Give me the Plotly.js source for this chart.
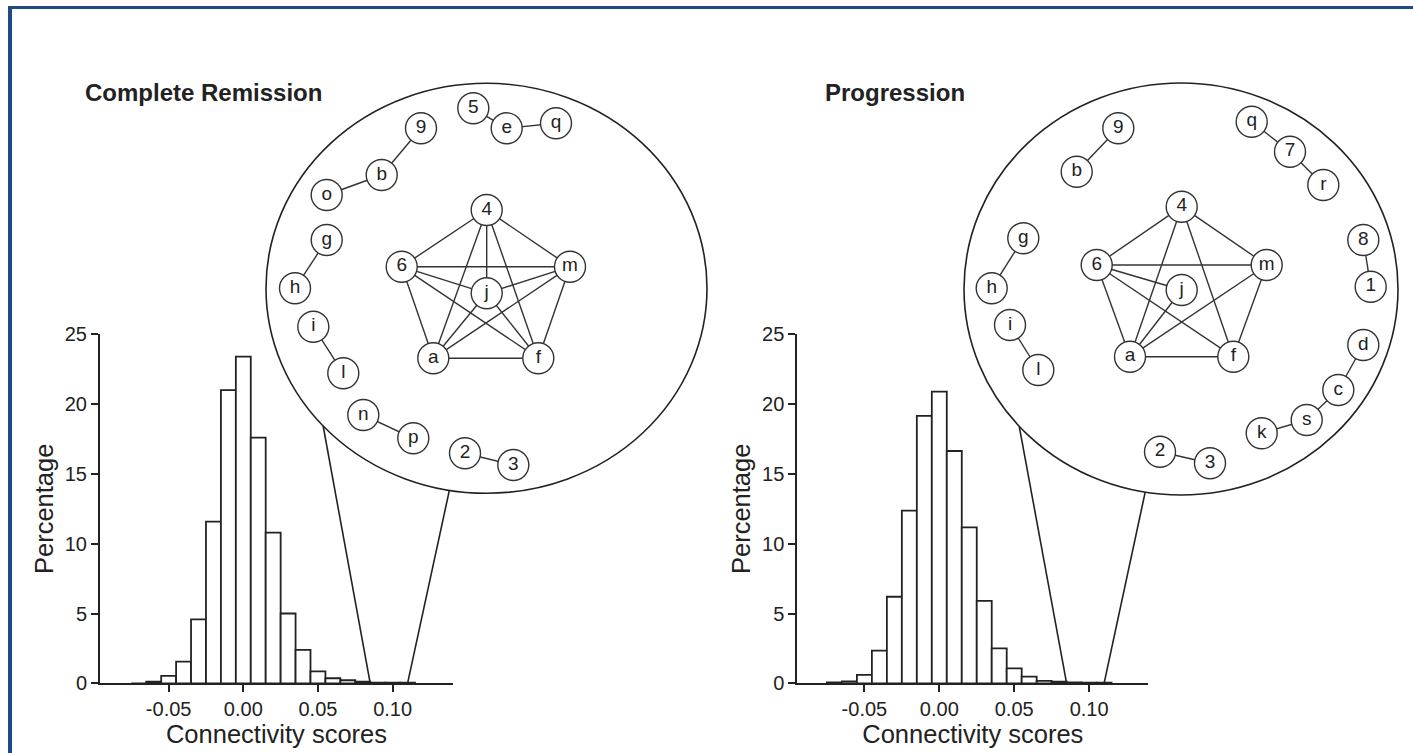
<!DOCTYPE html>
<html>
<head>
<meta charset="utf-8">
<script src="https://cdn.plot.ly/plotly-3.0.1.min.js"></script>
<style>html,body{margin:0;padding:0;background:#fff;}#chart{width:1413px;height:753px;}</style>
</head>
<body>
<div id="chart"></div>
<script>
// ---------------- data ----------------
const binCenters = [-0.07,-0.06,-0.05,-0.04,-0.03,-0.02,-0.01,0.00,0.01,0.02,0.03,0.04,0.05,0.06,0.07,0.08,0.09,0.10,0.11];
const remissionPct = [0,0.12,0.53,1.55,4.58,11.58,21.0,23.4,17.6,10.8,5.0,2.39,0.85,0.36,0.22,0.12,0.05,0.04,0.04];
const progressionPct = [0.07,0.14,0.6,2.34,6.2,12.37,19.15,20.9,16.64,11.17,5.9,2.5,1.07,0.48,0.17,0.12,0.07,0.05,0.04];
const xTickVals = [-0.05,0,0.05,0.10];
const xTickText = ['-0.05','0.00','0.05','0.10'];
const yTickVals = [0,5,10,15,20,25];
const zoomedRange = [0.085, 0.11];
const panelTitles = ['Complete Remission','Progression'];

// network (complete remission)
const remNodes  = ['5','e','q','9','b','o','g','h','i','l','n','p','2','3','4','6','m','j','a','f'];
const remNodeX  = [473.3,506.7,556,421,381.7,326.7,326.7,295,313.3,343.3,363.3,413.3,465,513.3,486.7,401.7,570,486.7,433.3,538.3];
const remNodeY  = [108.3,128.3,123.3,128.3,175,195,240,288.3,326.7,373.3,415,438.3,453.3,465,210,266.7,266.7,293.3,358.3,358.3];
const remEdges  = [['5','e'],['e','q'],['9','b'],['b','o'],['g','h'],['i','l'],['n','p'],['2','3'],
  ['4','6'],['4','m'],['4','a'],['4','f'],['4','j'],['6','m'],['6','a'],['6','f'],['6','j'],
  ['m','a'],['m','f'],['m','j'],['a','f'],['a','j'],['f','j']];

// network (progression)
const proNodes  = ['9','b','q','7','r','8','1','d','c','s','k','2','3','g','h','i','l','4','6','m','j','a','f'];
const proNodeX  = [1118.3,1076.7,1251.7,1290,1323.3,1363.3,1370.7,1363.3,1338.3,1306.7,1261.7,1160,1210,1023.3,991.7,1010,1038.3,1181.7,1096.7,1266.7,1181.7,1130,1233.3];
const proNodeY  = [128.3,171.7,121.7,151.7,185,240,286.7,345,390,420,433.3,451.7,463.3,238.3,288.3,325,370,206.7,265,265,290,356.7,356.7];
const proEdges  = [['9','b'],['q','7'],['7','r'],['8','1'],['d','c'],['c','s'],['s','k'],['g','h'],['i','l'],['2','3'],
  ['4','6'],['4','m'],['4','a'],['4','f'],['6','m'],['6','a'],['6','f'],['6','j'],
  ['m','a'],['m','f'],['a','f'],['a','j']];

// ---------------- layout constants ----------------
const W = 1413, H = 753;
const ink = '#222';
const FONT = 'Liberation Sans, Arial, Helvetica, sans-serif';
const panels = [
  {xpx:[100,453], ypx:[334.3,683.3], range:[-0.09597,0.14043], ell:{cx:486.5,cy:288.3,rx:220.5,ry:205}, angles:[137.8,99.7], title:{x:83,y:92}},
  {xpx:[797.3,1148.3], ypx:[334.3,683.3], range:[-0.09479,0.13952], ell:{cx:1181,cy:289,rx:217,ry:206}, angles:[138.2,99.5], title:{x:823,y:92}}
];

function edgeXY(nodes, xs, ys, edges){
  const X=[],Y=[];
  edges.forEach(([a,b])=>{
    const i=nodes.indexOf(a), j=nodes.indexOf(b);
    X.push(xs[i],xs[j],null); Y.push(ys[i],ys[j],null);
  });
  return {X,Y};
}

const traces = [];
const seriesList = [remissionPct, progressionPct];
seriesList.forEach((vals,k)=>{
  traces.push({
    type:'bar', x:binCenters, y:vals, width:0.01,
    xaxis: k===0?'x':'x2', yaxis: k===0?'y':'y2',
    marker:{color:'#fff', line:{color:ink, width:1.8}},
    hoverinfo:'x+y', showlegend:false
  });
});

const nets = [[remNodes,remNodeX,remNodeY,remEdges],[proNodes,proNodeX,proNodeY,proEdges]];
nets.forEach(([n,xs,ys,e])=>{
  const ed = edgeXY(n,xs,ys,e);
  traces.push({type:'scatter', mode:'lines', x:ed.X, y:ed.Y, xaxis:'x3', yaxis:'y3',
    line:{color:'#333', width:1.4}, hoverinfo:'skip', showlegend:false});
  traces.push({type:'scatter', mode:'markers+text', x:xs, y:ys, text:n, xaxis:'x3', yaxis:'y3',
    textposition:'middle center', textfont:{family:FONT, size:19, color:ink},
    marker:{size:31, color:'#fff', line:{color:'#333', width:1.4}},
    hoverinfo:'text', showlegend:false});
});

const shapes = [];
const annotations = [];
panels.forEach((p,k)=>{
  const e = p.ell;
  shapes.push({type:'circle', xref:'x3', yref:'y3', x0:e.cx-e.rx, x1:e.cx+e.rx, y0:e.cy-e.ry, y1:e.cy+e.ry,
    line:{color:ink, width:1.6}, fillcolor:'rgba(0,0,0,0)', layer:'below'});
  // connectors from the zoomed range on the axis to the ellipse
  const pxPerUnit = (p.xpx[1]-p.xpx[0])/(p.range[1]-p.range[0]);
  zoomedRange.forEach((v,i)=>{
    const ax = p.xpx[0] + (v-p.range[0])*pxPerUnit;
    const ay = p.ypx[1];
    const t = p.angles[i]*Math.PI/180;
    const ex = e.cx + e.rx*Math.cos(t), ey = e.cy + e.ry*Math.sin(t);
    shapes.push({type:'line', xref:'x3', yref:'y3', x0:ax, y0:ay, x1:ex, y1:ey, line:{color:ink, width:1.6}, layer:'above'});
  });
  annotations.push({xref:'x3', yref:'y3', x:p.title.x, y:p.title.y, xanchor:'left', yanchor:'middle',
    text:'<b>'+panelTitles[k]+'</b>', showarrow:false, font:{family:FONT, size:24, color:ink}});
});
// blue frame
shapes.push({type:'rect', xref:'x3', yref:'y3', x0:8, x1:12, y0:6, y1:H, line:{width:0}, fillcolor:'#1e4b84', layer:'above'});
shapes.push({type:'rect', xref:'x3', yref:'y3', x0:8, x1:W, y0:6, y1:9, line:{width:0}, fillcolor:'#1e4b84', layer:'above'});

function xAx(p){
  return {domain:[p.xpx[0]/W, p.xpx[1]/W], range:p.range, showgrid:false, zeroline:false,
    showline:true, linecolor:ink, linewidth:2, ticks:'outside', ticklen:7, tickwidth:2, tickcolor:ink,
    tickvals:xTickVals, ticktext:xTickText, tickfont:{family:FONT, size:20, color:ink},
    title:{text:'Connectivity scores', font:{family:FONT, size:25.5, color:ink}, standoff:0}, fixedrange:true};
}
function yAx(p, anchor){
  return {domain:[(H-p.ypx[1])/H, (H-p.ypx[0])/H], range:[0,25], showgrid:false, zeroline:false,
    showline:true, linecolor:ink, linewidth:2, ticks:'outside', ticklen:7, tickwidth:2, tickcolor:ink,
    tickvals:yTickVals, tickfont:{family:FONT, size:20, color:ink}, anchor:anchor,
    title:{text:'Percentage', font:{family:FONT, size:25.5, color:ink}, standoff:4}, fixedrange:true};
}

const layout = {
  width:W, height:H, margin:{l:0,r:0,t:0,b:0},
  paper_bgcolor:'#fff', plot_bgcolor:'rgba(0,0,0,0)',
  bargap:0, showlegend:false,
  xaxis: Object.assign(xAx(panels[0]), {anchor:'y'}),
  yaxis: yAx(panels[0],'x'),
  xaxis2: Object.assign(xAx(panels[1]), {anchor:'y2'}),
  yaxis2: yAx(panels[1],'x2'),
  xaxis3: {domain:[0,1], range:[0,W], visible:false, fixedrange:true, anchor:'y3'},
  yaxis3: {domain:[0,1], range:[H,0], visible:false, fixedrange:true, anchor:'x3'},
  shapes:shapes, annotations:annotations,
  font:{family:FONT, color:ink}
};

Plotly.newPlot('chart', traces, layout, {displayModeBar:false, staticPlot:true});
</script>
</body>
</html>
